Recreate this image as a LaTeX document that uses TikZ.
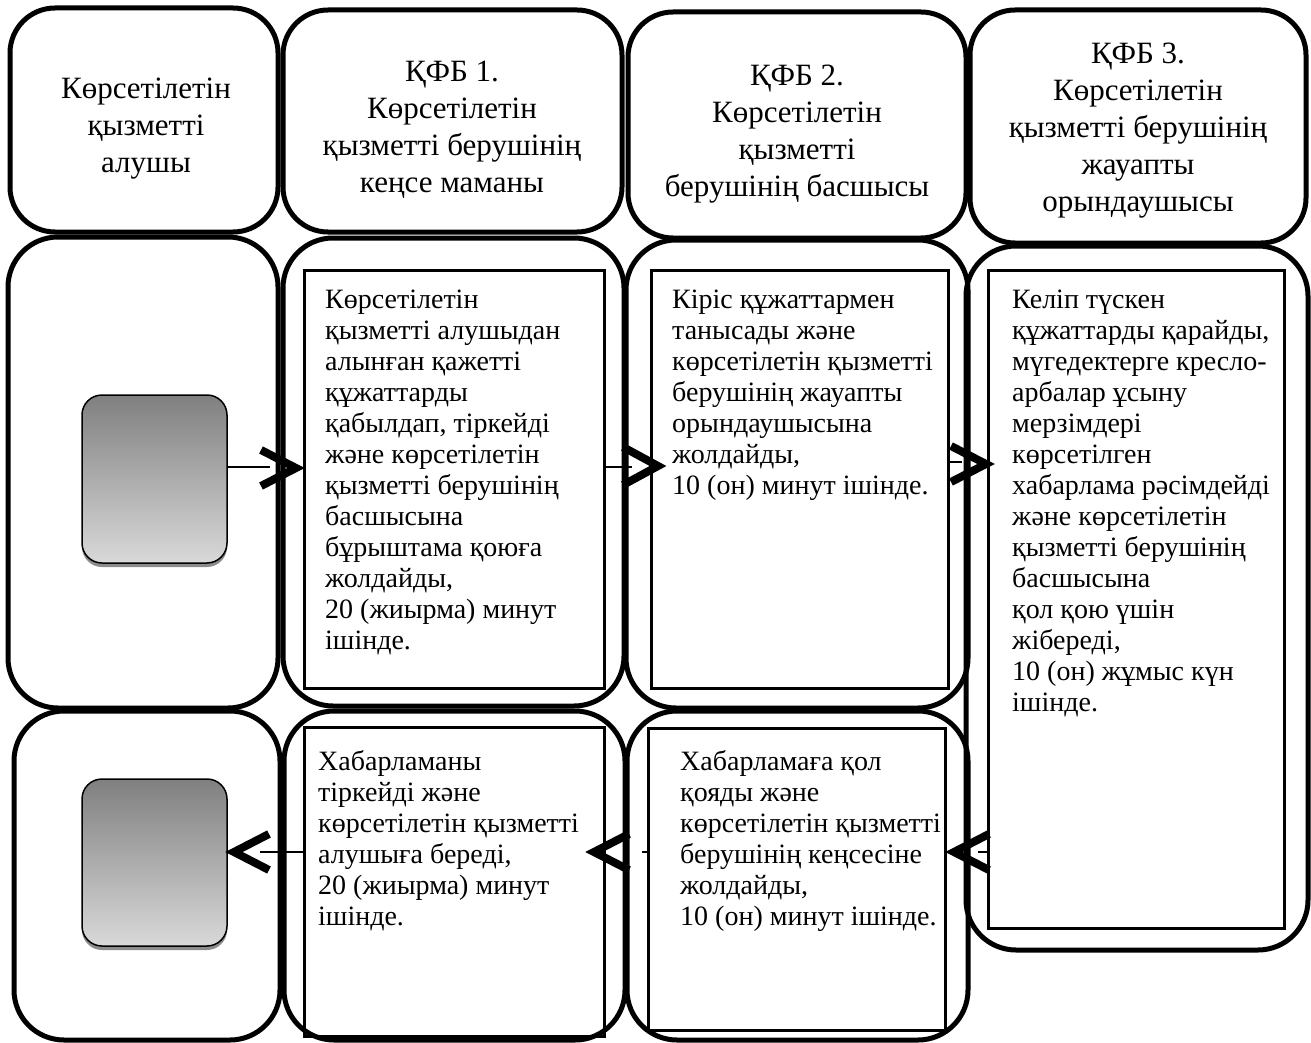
\documentclass[tikz,border=0pt]{standalone}
\usepackage{fontspec}
\setmainfont{Liberation Serif}
\usetikzlibrary{shadows,calc}
\tikzset{
 hdr/.style={draw, line width=5pt, rounded corners=45pt, inner sep=0pt, outer sep=0pt},
 htxt/.style={align=center, inner sep=0pt, font=\fontsize{31}{37}\selectfont},
 lane/.style={draw, line width=5pt, rounded corners=50pt, inner sep=0pt, outer sep=0pt},
 inbox/.style={draw, line width=3pt, inner sep=0pt, outer sep=0pt},
 gbox/.style={draw, line width=1.5pt, rounded corners=20pt, inner sep=0pt, outer sep=0pt, top color=black!50, bottom color=black!15, drop shadow={shadow xshift=0pt, shadow yshift=-4pt, fill=black!45, opacity=1}},
 body/.style={anchor=north west, align=left, inner sep=0pt, font=\fontsize{28}{31}\selectfont},
 conn/.style={line width=1.5pt},
 chev/.style={line width=8pt, line join=miter},
}
\newcommand\bx[7]{\node[#6, minimum width={#4pt-#2pt}, minimum height={#5pt-#3pt}] (#1) at ({(#2+#4)/2},{(#3+#5)/2}) {#7};}
\begin{document}
\begin{tikzpicture}[x=1pt,y=-1pt]
\useasboundingbox (0,0) rectangle (1311,1043);
% lanes
\bx{l1a}{8}{237}{278}{708}{lane}{}
\bx{l2a}{283}{238}{624}{706}{lane}{}
\bx{l3a}{626}{240}{968}{708}{lane}{}
\bx{l4}{966}{246}{1308}{950}{lane}{}
\bx{l1b}{14}{711}{280}{1040}{lane}{}
\bx{l2b}{284}{711}{625}{1040}{lane}{}
\bx{l3b}{627}{711}{968}{1040}{lane}{}
% headers
\bx{h1}{10}{8}{278}{232}{hdr}{}
\bx{h2}{283}{10}{622}{232}{hdr}{}
\bx{h3}{628}{12}{966}{238}{hdr}{}
\bx{h4}{970}{10}{1306}{243}{hdr}{}
\node[htxt] (h1t) at (146,129) {Көрсетілетін\\қызметті\\алушы};
\node[htxt] (h2t) at (452,130) {ҚФБ 1.\\Көрсетілетін\\қызметті берушінің\\кеңсе маманы};
\node[htxt] (h3t) at (797,134) {ҚФБ 2.\\Көрсетілетін\\қызметті\\берушінің басшысы};
\node[htxt] (h4t) at (1138,131) {ҚФБ 3.\\Көрсетілетін\\қызметті берушінің\\жауапты\\орындаушысы};
% inner boxes
\bx{r2a}{304}{270}{604}{688}{inbox}{}
\bx{r3a}{651}{270}{948}{688}{inbox}{}
\bx{r4}{988}{270}{1284}{928}{inbox}{}
\bx{r2b}{304}{727}{604}{1036}{inbox}{}
\bx{r3b}{648}{728}{945}{1030}{inbox}{}
% gradient boxes
\bx{g1}{82}{395}{227}{563}{gbox}{}
\bx{g2}{82}{779}{227}{946}{gbox}{}
% texts
\node[body] (t2a) at (325,288) {\rule{0pt}{20pt}Көрсетілетін\\қызметті алушыдан\\алынған қажетті\\құжаттарды\\қабылдап, тіркейді\\және көрсетілетін\\қызметті берушінің\\басшысына\\бұрыштама қоюға\\жолдайды,\\20 (жиырма) минут\\ішінде.};
\node[body] (t3a) at (672,288) {\rule{0pt}{20pt}Кіріс құжаттармен\\танысады және\\көрсетілетін қызметті\\берушінің жауапты\\орындаушысына\\жолдайды,\\10 (он) минут ішінде.};
\node[body] (t4) at (1012,288) {\rule{0pt}{20pt}Келіп түскен\\құжаттарды қарайды,\\мүгедектерге кресло-\\арбалар ұсыну\\мерзімдері\\көрсетілген\\хабарлама рәсімдейді\\және көрсетілетін\\қызметті берушінің\\басшысына\\қол қою үшін\\жібереді,\\10 (он) жұмыс күн\\ішінде.};
\node[body] (t2b) at (318,750) {\rule{0pt}{20pt}Хабарламаны\\тіркейді және\\көрсетілетін қызметті\\алушыға береді,\\20 (жиырма) минут\\ішінде.};
\node[body] (t3b) at (680,750) {\rule{0pt}{20pt}Хабарламаға қол\\қояды және\\көрсетілетін қызметті\\берушінің кеңсесіне\\жолдайды,\\10 (он) минут ішінде.};
% connectors
\coordinate (a1) at (270,467); \coordinate (p1) at (296,468);
\coordinate (a2) at (632,467); \coordinate (p2) at (658,466);
\coordinate (a3) at (962,462); \coordinate (p3) at (986,464);
\coordinate (a4) at (978,852); \coordinate (p4) at (954,852);
\coordinate (a5) at (642,852); \coordinate (p5) at (594,852);
\coordinate (a6) at (260,852); \coordinate (p6) at (234,852);
\draw[conn] (g1.east |- a1) -- (a1);
\draw[conn] (r2a.east |- a2) -- (a2);
\draw[conn] (r3a.east |- a3) -- (a3);
\draw[conn] (r4.west |- a4) -- (a4);
\draw[conn] (r3b.west |- a5) -- (a5);
\draw[conn] (r2b.west |- a6) -- (a6);
\draw[chev] ($(p1)+(-35,-18)$) -- (p1) -- ($(p1)+(-35,18)$);
\draw[chev] ($(p2)+(-35,-19)$) -- (p2) -- ($(p2)+(-35,19)$);
\draw[chev] ($(p3)+(-35,-18)$) -- (p3) -- ($(p3)+(-35,18)$);
\draw[chev] ($(p4)+(35,-18)$) -- (p4) -- ($(p4)+(35,18)$);
\draw[chev] ($(p5)+(35,-18)$) -- (p5) -- ($(p5)+(35,18)$);
\draw[chev] ($(p6)+(35,-18)$) -- (p6) -- ($(p6)+(35,18)$);
\end{tikzpicture}
\end{document}
